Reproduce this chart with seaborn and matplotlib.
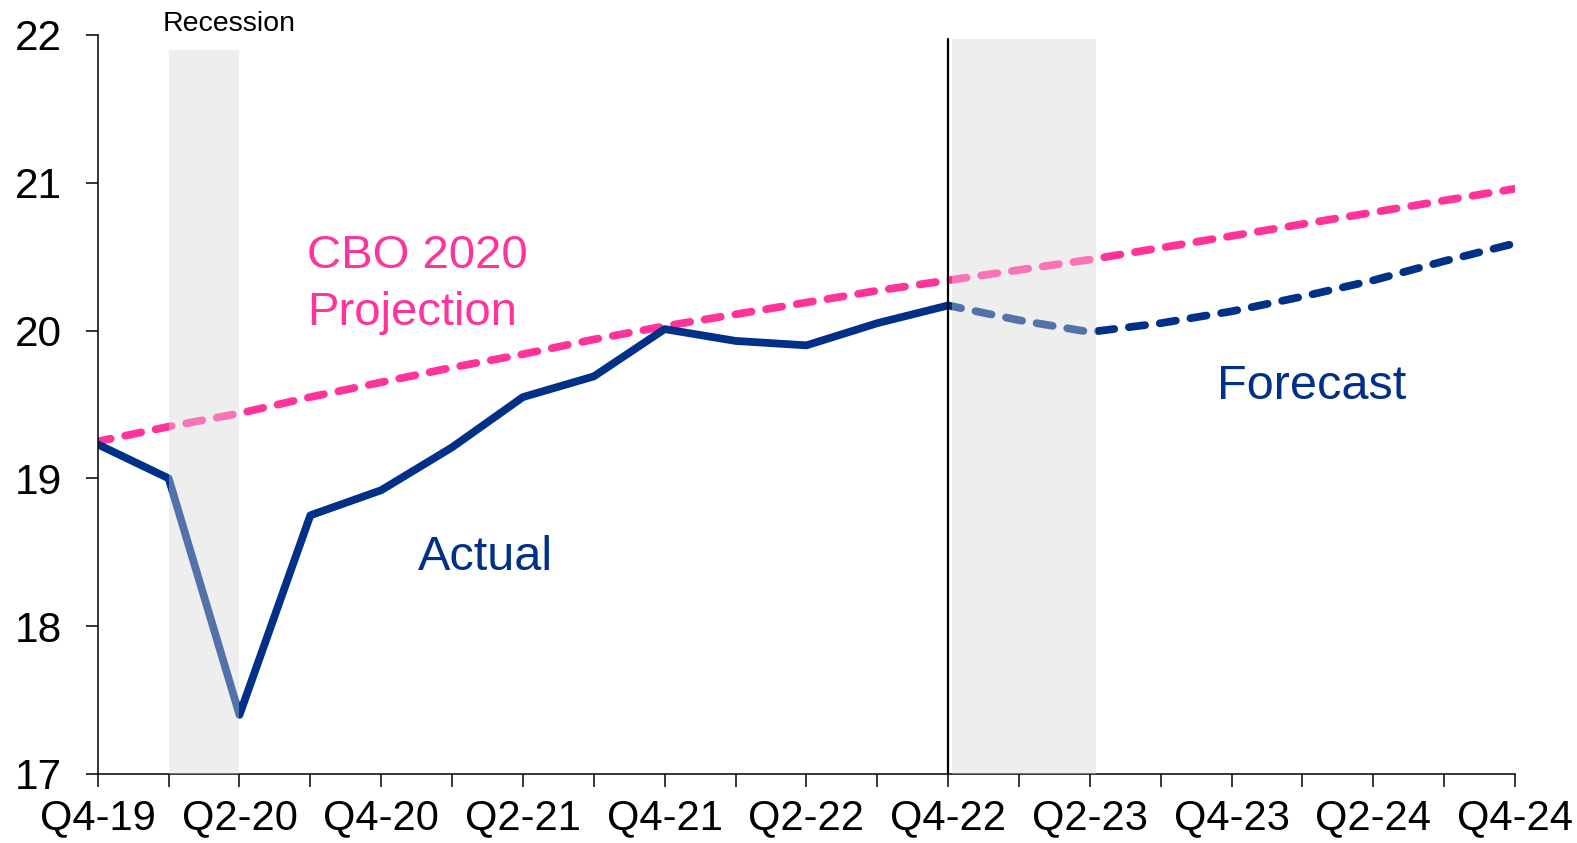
import matplotlib
matplotlib.use("Agg")
import matplotlib.pyplot as plt
import seaborn as sns
import pandas as pd
import numpy as np

# quarters Q4-19 .. Q4-24
quarters = ['Q4-19', 'Q1-20', 'Q2-20', 'Q3-20', 'Q4-20', 'Q1-21', 'Q2-21', 'Q3-21',
            'Q4-21', 'Q1-22', 'Q2-22', 'Q3-22', 'Q4-22', 'Q1-23', 'Q2-23', 'Q3-23',
            'Q4-23', 'Q1-24', 'Q2-24', 'Q3-24', 'Q4-24']
tick_labels = [q if i % 2 == 0 else '' for i, q in enumerate(quarters)]

actual = [19.23, 19.00, 17.40, 18.75, 18.92, 19.21, 19.55, 19.69, 20.01, 19.93,
          19.90, 20.05, 20.17]
forecast = [20.17, 20.07, 19.99, 20.05, 20.13, 20.23, 20.34, 20.47, 20.59]
cbo = [19.25, 19.35, 19.44, 19.55, 19.65, 19.75, 19.84, 19.94, 20.03, 20.11, 20.19,
       20.27, 20.34, 20.41, 20.48, 20.56, 20.64, 20.72, 20.80, 20.88, 20.96]

navy = '#003087'
pink = '#ff3399'

df_act = pd.DataFrame({'q': np.arange(len(actual)), 'v': actual})
df_fc = pd.DataFrame({'q': np.arange(12, 12 + len(forecast)), 'v': forecast})
df_cbo = pd.DataFrame({'q': np.arange(len(cbo)), 'v': cbo})

sns.set_style('ticks')
plt.rcParams['font.family'] = ['Liberation Sans', 'DejaVu Sans']
plt.rcParams['text.color'] = 'black'

fig = plt.figure(figsize=(15.77, 8.43), dpi=100)
ax = fig.add_axes([0.062, 0.0819, 0.8987, 0.8766])

lw = 5.6
dash = (0.4, (2.1, 1.9))
sns.lineplot(data=df_cbo, x='q', y='v', ax=ax, color=pink, linewidth=lw, linestyle=dash,
             dash_capstyle='round', zorder=2)
sns.lineplot(data=df_act, x='q', y='v', ax=ax, color=navy, linewidth=lw,
             solid_capstyle='round', zorder=2)
sns.lineplot(data=df_fc, x='q', y='v', ax=ax, color=navy, linewidth=lw, linestyle=dash,
             dash_capstyle='round', zorder=2)
for ln in ax.lines:
    ln.set_linewidth(lw)

# shaded areas: opaque behind, translucent on top of the lines
ax.axvspan(1, 2, ymax=0.98, color='#eeeeee', lw=0, zorder=0)
ax.axvspan(1, 2, ymax=0.98, color='#eeeeee', alpha=0.35, lw=0, zorder=3)
ax.axvspan(12.05, 14.09, ymax=0.994, color='#eeeeee', lw=0, zorder=0)
ax.axvspan(12.05, 14.09, ymax=0.994, color='#eeeeee', alpha=0.35, lw=0, zorder=3)
ax.axvline(12, ymax=0.994, color='black', lw=1.6, zorder=4)

ax.set_xlim(0, 20)
ax.set_ylim(17, 22)
ax.set_xticks(np.arange(len(quarters)))
ax.set_xticklabels(tick_labels)
ax.set_yticks([17, 18, 19, 20, 21, 22])
ax.set_xlabel('')
ax.set_ylabel('')
ax.tick_params(axis='x', direction='out', length=9.5, width=1.1, labelsize=30, pad=8,
               colors='black')
ax.tick_params(axis='y', direction='out', length=9, width=1.1, labelsize=30.5, pad=17,
               colors='black')
sns.despine(ax=ax)
for s in ['left', 'bottom']:
    ax.spines[s].set_linewidth(1.1)
    ax.spines[s].set_color('black')

ax.text(1.85, 22.03, 'Recession', fontsize=20.5, ha='center', va='baseline', clip_on=False)
ax.text(2.95, 20.04, 'CBO 2020\nProjection', fontsize=34, color=pink, ha='left',
        va='baseline', linespacing=1.37)
ax.text(4.52, 18.38, 'Actual', fontsize=35, color=navy, ha='left', va='baseline')
ax.text(15.8, 19.54, 'Forecast', fontsize=35, color=navy, ha='left', va='baseline')

fig.savefig('out.png', dpi=100)
